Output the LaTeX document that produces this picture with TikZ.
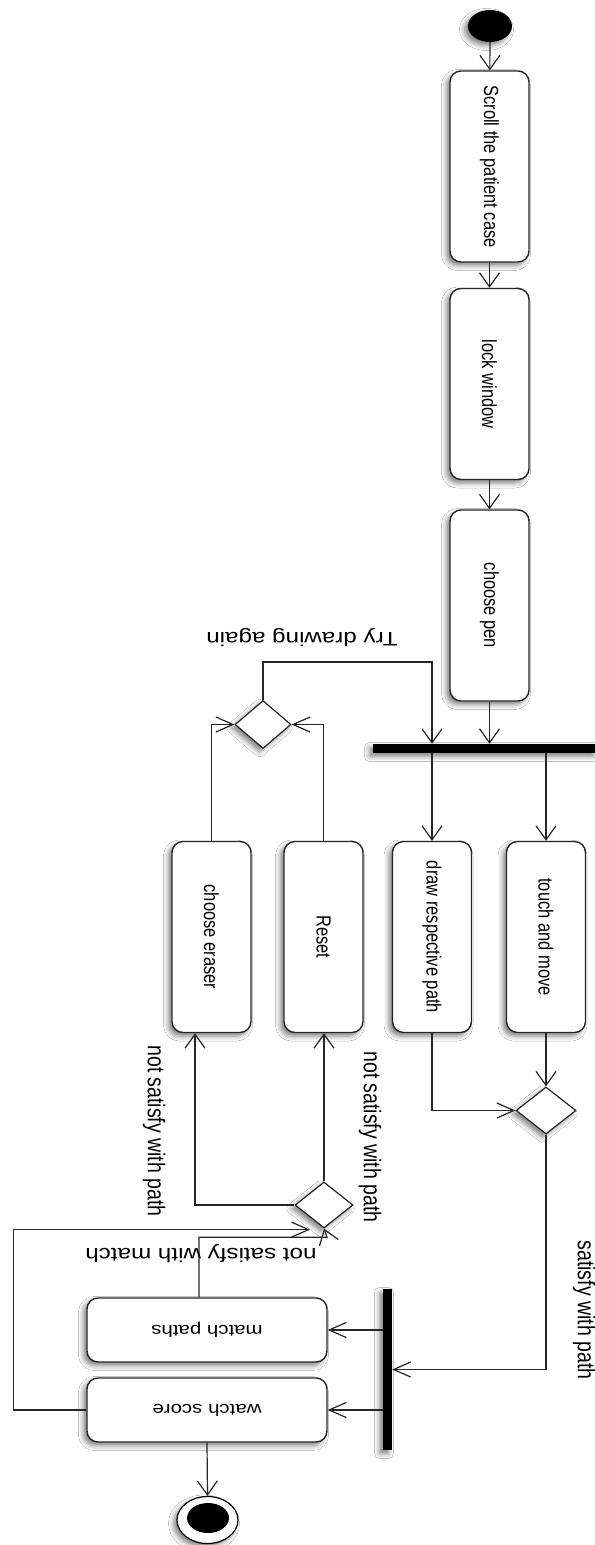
\documentclass[tikz,border=0pt]{standalone}
\usepackage{graphicx}
\usepackage{fontspec}
\setmainfont{Liberation Sans}
\usetikzlibrary{arrows.meta,shapes.geometric,shadows.blur,calc}

% text turned to read top-to-bottom, and text turned upside down
\newcommand{\downtext}[1]{\rotatebox{-90}{\scalebox{1}[1.24]{#1}}}
\newcommand{\fliptext}[1]{\rotatebox{180}{\scalebox{1.24}[1]{#1}}}

\begin{document}
\begin{tikzpicture}[x=1bp,y=-1bp,
  soft/.style={blur shadow={shadow xshift=-3.5bp,shadow yshift=-3.5bp,shadow blur radius=5bp,shadow opacity=50}},
  action/.style={draw=black!85,line width=1.4bp,fill=white,rounded corners=11bp,inner sep=0pt,soft,
    font=\fontsize{16.5bp}{19bp}\selectfont},
  vact/.style={action,minimum width=79bp,minimum height=191bp},
  hact/.style={action,minimum width=240bp,minimum height=64bp},
  choice/.style={diamond,draw=black!85,line width=1.2bp,fill=white,inner sep=0pt,soft},
  syncbar/.style={rectangle,fill=black,inner sep=0pt,soft},
  flow/.style={draw=black!85,line width=1.2bp},
  varr/.style={flow,-{Straight Barb[length=14bp,width=20bp]}},
  harr/.style={flow,-{Straight Barb[length=17bp,width=15bp]}},
  guard/.style={inner sep=0pt,font=\fontsize{19.5bp}{22bp}\selectfont}
]
\fill[white] (0,0) rectangle (595,1545);
\useasboundingbox (0,0) rectangle (595,1545);

% initial and final states
\node[ellipse,fill=black,minimum width=44bp,minimum height=32bp,inner sep=0pt,soft] (start) at (490,26) {};
\node[ellipse,draw=black,line width=1.2bp,fill=white,minimum width=61bp,minimum height=47bp,inner sep=0pt,soft] (final) at (207.5,1520) {};
\node[ellipse,fill=black,minimum width=42bp,minimum height=30bp,inner sep=0pt] (finalcore) at (208,1518) {};

% actions
\node[vact] (scroll) at (489.5,166.5) {\downtext{Scroll the patient case}};
\node[vact] (lock)   at (489.5,384)   {\downtext{lock window}};
\node[vact] (pen)    at (489.5,605.5) {\downtext{choose pen}};
\node[vact] (draw)   at (432,937)     {\downtext{draw respective path}};
\node[vact] (touch)  at (546,937)     {\downtext{touch and move}};
\node[vact] (eraser) at (211.5,937)   {\downtext{choose eraser}};
\node[vact] (reset)  at (323.5,937)   {\downtext{Reset}};
\node[hact] (match)  at (207,1330)    {\fliptext{match paths}};
\node[hact] (watch)  at (207,1410)    {\fliptext{watch score}};

% fork bars
\node[syncbar,minimum width=224bp,minimum height=9bp] (bar1) at (485,748.5) {};
\node[syncbar,minimum width=9bp,minimum height=161bp] (bar2) at (387.5,1369.5) {};

% decisions and merges
\node[choice,minimum width=56bp,minimum height=48bp] (dm1) at (263,724.5) {};
\node[choice,minimum width=60bp,minimum height=47bp] (dm2) at (546,1110.5) {};
\node[choice,minimum width=58bp,minimum height=46bp] (dm3) at (324,1205) {};

% main sequence
\draw[varr] (start) -- (scroll);
\draw[varr] (scroll) -- (lock);
\draw[varr] (lock) -- (pen);
\draw[varr] (pen) -- (pen |- bar1.north);
\draw[varr] (dm1.north) -- ++(0,-38) -| (draw |- bar1.north);
\draw[varr] (draw |- bar1.south) -- (draw.north);
\draw[varr] (touch |- bar1.south) -- (touch.north);

% erase / reset loop
\draw[harr] (eraser.north) |- (dm1.west);
\draw[harr] (reset.north) |- (dm1.east);

% joining the drawing branches
\draw[varr] (touch.south) -- (dm2.north);
\draw[harr] (draw.south) |- (dm2.west);
\draw[harr] (dm2.south) |- (bar2.east);

% checks after drawing
\draw[varr] (dm3.north) -- (dm3.north |- reset.south);
\draw[varr] (dm3.west) -| ([xshift=-16.5bp]eraser.south);
\draw[harr] (bar2.west |- match) -- (match.east);
\draw[harr] (bar2.west |- watch) -- (watch.east);
\draw[harr] (watch.west) -- ++(-73,0) |- ([xshift=-14bp,yshift=-1bp]dm3.south);
\draw[varr] ([xshift=-8bp]match.north) -- ++(0,-60) -- ++(128,0) -- (dm3.south);
\draw[varr] (watch.south) -- (final.north);

% guard labels
\node[guard] (lbltry)   at (302,638)   {\fliptext{Try drawing again}};
\node[guard] (lblsat)   at (584,1310)  {\downtext{satisfy with path}};
\node[guard] (lblnsr)   at (370,1137)  {\downtext{not satisfy with path}};
\node[guard] (lblnsl)   at (154,1131)  {\downtext{not satisfy with path}};
\node[guard] (lblmatch) at (201,1254)  {\fliptext{not satisfy with match}};
\end{tikzpicture}
\end{document}
